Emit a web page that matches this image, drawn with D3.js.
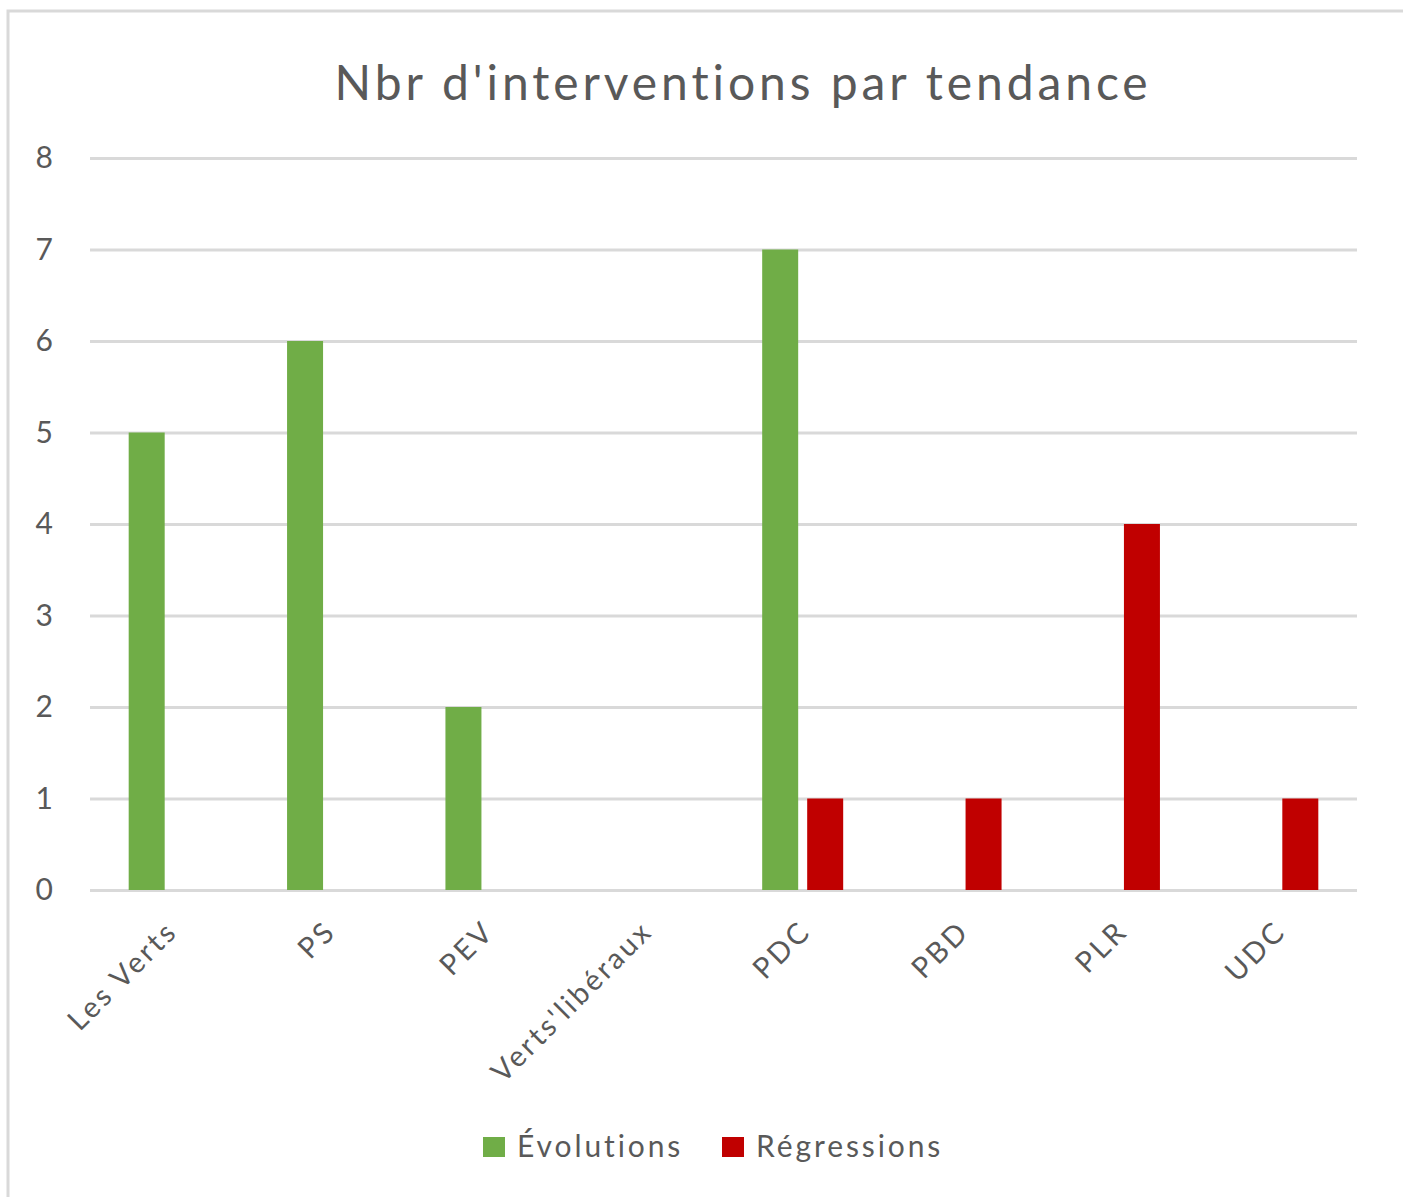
<!DOCTYPE html>
<html>
<head>
<meta charset="utf-8">
<script src="https://cdn.jsdelivr.net/npm/d3@7"></script>
<style>
  body { margin: 0; background: #fff; }
  text { font-family: Lato, "Open Sans", sans-serif; fill: #595959; font-variant-ligatures: none; }
</style>
</head>
<body>
<svg id="chart" width="1403" height="1197"></svg>
<script>
const categories = ["Les Verts", "PS", "PEV", "Verts'libéraux", "PDC", "PBD", "PLR", "UDC"];
const seriesNames = ["Évolutions", "Régressions"];
const evolutions = [5, 6, 2, 0, 7, 0, 0, 0];
const regressions = [0, 0, 0, 0, 1, 1, 4, 1];
const yTicks = [0, 1, 2, 3, 4, 5, 6, 7, 8];
const colors = ["#70ad47", "#c00000"];

const svg = d3.select("#chart");
const area = { left: 90, right: 1357, top: 158, bottom: 890 };

// cadre (coupé à droite et en bas)
svg.append("rect")
    .attr("x", 8).attr("y", 11)
    .attr("width", 1420).attr("height", 1220)
    .attr("fill", "none")
    .attr("stroke", "#d9d9d9")
    .attr("stroke-width", 3);

svg.append("text")
    .attr("x", 743).attr("y", 100)
    .attr("text-anchor", "middle")
    .style("font-size", "48px")
    .style("letter-spacing", "3.9px")
    .text("Nbr d'interventions par tendance");

const scaleX = d3.scaleBand()
    .domain(categories)
    .range([area.left, area.right]);

const scaleSeries = d3.scaleBand()
    .domain(seriesNames)
    .range([0, 81])
    .paddingInner(0.2);

const scaleY = d3.scaleLinear()
    .domain([0, 8])
    .range([area.bottom, area.top]);

// axe Y + grille
const axisY = d3.axisLeft(scaleY)
    .tickValues(yTicks)
    .tickSize(-(area.right - area.left))
    .tickPadding(37);

const gY = svg.append("g")
    .attr("transform", `translate(${area.left}, 0)`)
    .call(axisY);
gY.select(".domain").remove();
gY.selectAll(".tick line")
    .attr("stroke", "#d9d9d9")
    .attr("stroke-width", 3);
gY.selectAll(".tick text")
    .attr("fill", "#595959")
    .style("font-size", "30px")
    .style("font-family", "Lato, sans-serif");

// barres
const series = [
    { name: seriesNames[0], values: evolutions, color: colors[0] },
    { name: seriesNames[1], values: regressions, color: colors[1] }
];

series.forEach(s => {
    categories.forEach((c, i) => {
        const v = s.values[i];
        const x0 = scaleX(c) + scaleX.bandwidth() / 2 - 40.5 + scaleSeries(s.name);
        svg.append("rect")
            .attr("x", x0)
            .attr("y", scaleY(v))
            .attr("width", scaleSeries.bandwidth())
            .attr("height", scaleY(0) - scaleY(v))
            .attr("fill", s.color);
    });
});

// étiquettes X
categories.forEach(c => {
    const cx = scaleX(c) + scaleX.bandwidth() / 2;
    svg.append("text")
        .attr("transform", `translate(${cx + 10}, 933) rotate(-45)`)
        .attr("text-anchor", "end")
        .style("font-size", "29px")
        .style("letter-spacing", "2.9px")
        .text(c);
});

// légende
const legendItems = [
    { name: seriesNames[0], color: colors[0], x: 483 },
    { name: seriesNames[1], color: colors[1], x: 722 }
];
legendItems.forEach(d => {
    svg.append("rect")
        .attr("x", d.x).attr("y", 1137)
        .attr("width", 22).attr("height", 20)
        .attr("fill", d.color);
    svg.append("text")
        .attr("x", d.x + 34).attr("y", 1157)
        .style("font-size", "30px")
        .style("letter-spacing", "2.9px")
        .text(d.name);
});
</script>
</body>
</html>
